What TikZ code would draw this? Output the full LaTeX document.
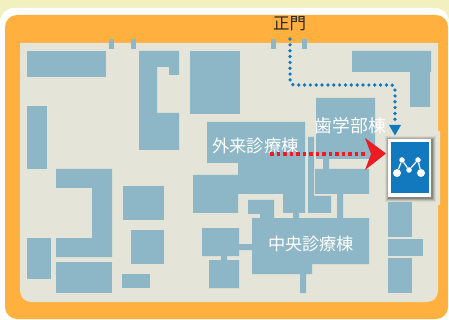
\documentclass[tikz,border=0pt]{standalone}
\usepackage{fontspec}
\setmainfont{Noto Sans CJK JP}
\usetikzlibrary{arrows.meta}
\definecolor{creamc}{HTML}{F2F0BE}
\definecolor{orangec}{HTML}{FFB03F}
\definecolor{groundc}{HTML}{E4E4D8}
\definecolor{bldc}{HTML}{8DB6C6}
\definecolor{bluec}{HTML}{1279BF}
\definecolor{redc}{HTML}{ED1C24}
\tikzset{
  bld/.style={fill=bldc,draw=none},
  maplabel/.style={text=white,font=\fontsize{#1}{#1}\selectfont,inner sep=0pt},
  walkpath/.style={draw=bluec,line width=3.7pt,line cap=round,dash pattern=on 0pt off 5.85pt},
  redpath/.style={draw=redc,line width=3.7pt,dash pattern=on 3.6pt off 2.9pt},
  iconline/.style={draw=white,line width=1.2pt},
  icondot/.style={circle,fill=white,inner sep=0pt,minimum size=#1}
}
\begin{document}
\begin{tikzpicture}[x=1pt,y=-1pt]
\useasboundingbox (0,0) rectangle (449,320);
\fill[creamc] (0,0) rectangle (449,320);
\fill[white,rounded corners=14pt] (0,8) rectangle (449,330);
\fill[white] (0,300) rectangle (449,320);
\fill[orangec,rounded corners=12pt] (5,15) rectangle (448,319);
% ground
\fill[groundc] (20,43) -- (438,43) -- (438,131) -- (440,131) -- (440,205) -- (438,205)
  -- (438,291) arc[start angle=0,end angle=90,radius=11pt,x radius=11pt,y radius=-11pt]
  -- (31,302) arc[start angle=90,end angle=180,x radius=11pt,y radius=-11pt] -- cycle;
% buildings: top row
\fill[bld] (109,39) rectangle (114,49);
\fill[bld] (131,39) rectangle (136,49);
\fill[bld] (271,39) rectangle (276,49);
\fill[bld] (302,39) rectangle (307,49);
\fill[bld] (27,51) rectangle (106,77);
\fill[bld] (139,51) -- (179,51) -- (179,75) -- (169,75) -- (169,67) -- (157,67) -- (157,113) -- (179,113) -- (179,150) -- (139,150) -- cycle;
\fill[bld] (190,51) rectangle (240,114);
\fill[bld] (352,51) -- (431,51) -- (431,72) -- (430,72) -- (430,107) -- (410,107) -- (410,72) -- (352,72) -- cycle;
% left column
\fill[bld] (27,106) rectangle (47,169);
\fill[bld] (56,169) -- (112,169) -- (112,257) -- (56,257) -- (56,238) -- (92,238) -- (92,188) -- (56,188) -- cycle;
\fill[bld] (27,238) rectangle (51,279);
\fill[bld] (56,262) rectangle (112,293);
\fill[bld] (123,186) rectangle (164,220);
\fill[bld] (131,230) rectangle (164,264);
\fill[bld] (122,274) rectangle (150,288);
% outpatient block
\fill[bld] (207,122) -- (305,122) -- (305,213) -- (299,213) -- (299,218) -- (293,218) -- (293,213) -- (283,213) -- (283,194) -- (238,194) -- (238,213) -- (193,213) -- (193,175) -- (238,175) -- (238,163) -- (207,163) -- cycle;
\fill[bld] (248,200) -- (274,200) -- (274,218) -- (260,218) -- (260,214) -- (248,214) -- cycle;
\fill[bld] (308,137) -- (314,137) -- (314,196) -- (331,196) -- (331,213) -- (308,213) -- cycle;
% dental block
\fill[bld] (316,98) -- (375,98) -- (375,159) -- (329,159) -- (329,169) -- (369,169) -- (369,194) -- (343,194) -- (343,219) -- (337,219) -- (337,194) -- (315,194) -- (315,169) -- (323,169) -- (323,159) -- (316,159) -- cycle;
% central block
\fill[bld] (252,218) -- (369,218) -- (369,264) -- (312,264) -- (312,274) -- (306,274) -- (306,293) -- (300,293) -- (300,274) -- (252,274) -- (252,250) -- (238,250) -- (238,244) -- (252,244) -- cycle;
\fill[bld] (202,228) -- (239,228) -- (239,256) -- (227,256) -- (227,260) -- (239,260) -- (239,288) -- (209,288) -- (209,260) -- (221,260) -- (221,256) -- (202,256) -- cycle;
% right column
\fill[bld] (388,202) rectangle (412,237);
\fill[bld] (388,239) rectangle (423,256);
\fill[bld] (388,258) rectangle (412,293);
% labels
\node[font=\fontsize{16.5}{16.5}\selectfont,text=black!85,inner sep=0pt] (gatelabel) at (289.5,23.5) {正門};
\node[maplabel=17.8] (dental) at (350.5,125.5) {歯学部棟};
\node[maplabel=17.3] (outpatient) at (255.5,145.5) {外来診療棟};
\node[maplabel=17.2] (central) at (311,243.5) {中央診療棟};
% card with soft shadow
\foreach \s/\o in {4/0.06,3/0.09,2/0.13,1/0.20}{
  \fill[black,opacity=\o] (388-\s+1,139-\s+1) rectangle (431+\s+1,197+\s+1);
}
\node[draw=none,fill=white,minimum width=43pt,minimum height=58pt,inner sep=0pt,outer sep=0pt] (card) at (409.5,168) {};
\fill[bluec] (390.5,142) rectangle (429,193.5);
\node[icondot=8pt] (ia) at (397,173) {};
\node[icondot=5.5pt] (ib) at (402,160) {};
\node[icondot=5.5pt] (ic) at (409,170) {};
\node[icondot=5.5pt] (id) at (418,160) {};
\node[icondot=8pt] (ie) at (421,173) {};
\draw[iconline] (ia) -- (ib);
\draw[iconline] (ib) -- (ic);
\draw[iconline] (ic) -- (id);
\draw[iconline] (id) -- (ie);
% walking route
\coordinate (gate) at (290,39);
\coordinate (walkend) at (395,122);
\draw[walkpath] (gate) -- (290,78) .. controls (290,83) and (291,85) .. (295,85) -- (390,85) .. controls (394,85) and (395,87) .. (395,91) -- (walkend);
\fill[bluec] (389,125) -- (401,125) -- (395,135.5) -- cycle;
% red route
\coordinate (redstart) at (270,154);
\coordinate (redend) at (366,154);
\draw[redpath] (redstart) -- (redend);
\fill[redc] (365,138) -- (386,153.5) -- (365,170) -- (371,154) -- cycle;
\end{tikzpicture}
\end{document}
